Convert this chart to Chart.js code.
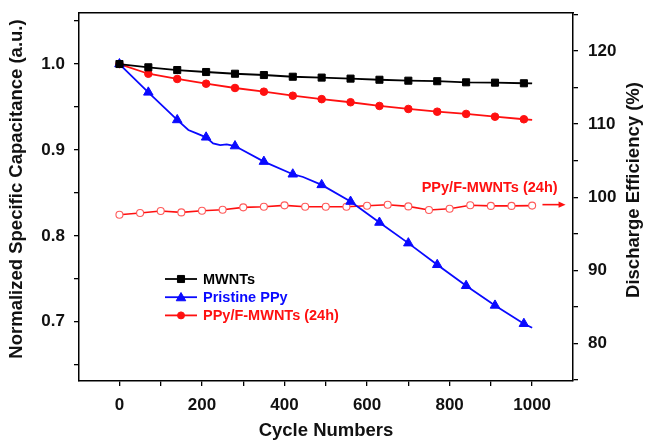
<!DOCTYPE html>
<html><head><meta charset="utf-8">
<script src="https://cdn.jsdelivr.net/npm/chart.js@4.4.1/dist/chart.umd.min.js"></script>
<style>html,body{margin:0;padding:0;background:#fff;}#wrap{width:647px;height:440px;position:relative;}</style>
</head><body><div id="wrap"><canvas id="c" width="647" height="440"></canvas></div>
<script>
// ---- data ----
const mwntCycles = [0,70,140,210,280,350,420,490,560,630,700,770,840,910,980,1000];
const mwntCap    = [1.000,0.9962,0.993,0.9907,0.9887,0.9872,0.9852,0.9842,0.983,0.9817,0.9806,0.980,0.9787,0.9783,0.9776,0.9774];
const mwntMarked = [1,1,1,1,1,1,1,1,1,1,1,1,1,1,1,0];

const compCycles = [0,70,140,210,280,350,420,490,560,630,700,770,840,910,980,1000];
const compCap    = [1.000,0.9887,0.9826,0.9771,0.9721,0.9678,0.9631,0.9591,0.9555,0.9512,0.9477,0.9445,0.9419,0.9387,0.9357,0.935];
const compMarked = [1,1,1,1,1,1,1,1,1,1,1,1,1,1,1,0];

const ppyCycles = [0,70,140,167,187,210,227,244,260,280,350,420,445,490,560,630,700,770,840,910,980,1000];
const ppyCap    = [1.000,0.967,0.9349,0.9232,0.9193,0.9147,0.9077,0.9057,0.9065,0.9045,0.8864,0.8717,0.8685,0.8593,0.8399,0.8155,0.7915,0.7663,0.7419,0.719,0.6977,0.693];
const ppyMarked = [1,1,1,0,0,1,0,0,0,1,1,1,0,1,1,1,1,1,1,1,1,0];

const effCycles = [0,50,100,150,200,250,300,350,400,450,500,550,600,650,700,750,800,850,900,950,1000];
const effValues = [97.60,97.83,98.10,97.92,98.14,98.28,98.61,98.69,98.88,98.69,98.69,98.69,98.83,98.96,98.74,98.24,98.42,98.89,98.81,98.81,98.85];

const xTicks = [0,100,200,300,400,500,600,700,800,900,1000];
const xLabels = [0,200,400,600,800,1000];
const yTicks = [0.65,0.70,0.75,0.80,0.85,0.90,0.95,1.00,1.05];
const yLabels = [0.7,0.8,0.9,1.0];
const y1Ticks = [75,80,85,90,95,100,105,110,115,120,125];
const y1Labels = [80,90,100,110,120];

const seriesNames = ['MWNTs','Pristine PPy','PPy/F-MWNTs (24h)'];
const annotationText = 'PPy/F-MWNTs (24h)';
const annotationPos = {x: 897, y: 101.24};
const arrowFrom = {x: 1025, y: 98.98};
const arrowTo = {x: 1081, y: 98.98};

// ---- styling ----
const FONT = "'Liberation Sans', Arial, Helvetica, sans-serif";
const BLACK = '#000000', BLUE = '#0a0aff', RED = '#ff1010', PINK = '#ff5a5a';

const pts = (xs, ys) => xs.map((x, i) => ({x, y: ys[i]}));
const near = (a, v) => a.some(t => Math.abs(t - v) < 1e-6);
const noPad = s => { s.paddingTop = 0; s.paddingBottom = 0; s.paddingLeft = 0; s.paddingRight = 0; };

function drawMarker(ctx, style, x, y, r, fill, stroke) {
  ctx.save();
  ctx.fillStyle = fill; ctx.strokeStyle = stroke; ctx.lineWidth = 1;
  ctx.beginPath();
  if (style === 'rect') {
    const s = r * Math.SQRT2 / 2;
    ctx.rect(x - s, y - s, 2 * s, 2 * s);
  } else if (style === 'triangle') {
    ctx.moveTo(x, y - r);
    ctx.lineTo(x + r * 0.866, y + r * 0.5);
    ctx.lineTo(x - r * 0.866, y + r * 0.5);
    ctx.closePath();
  } else {
    ctx.arc(x, y, r, 0, Math.PI * 2);
  }
  ctx.fill(); ctx.stroke();
  ctx.restore();
}

const overlay = {
  id: 'overlay',
  afterDraw(chart) {
    const ctx = chart.ctx, ca = chart.chartArea;
    const sx = chart.scales.x, sy1 = chart.scales.y1;
    ctx.save();
    // y-axis titles (both read bottom-to-top)
    ctx.font = 'bold 18.5px ' + FONT;
    ctx.fillStyle = '#111';
    ctx.textAlign = 'center'; ctx.textBaseline = 'middle';
    ctx.save(); ctx.translate(ca.left - 62, ca.top + 176); ctx.rotate(-Math.PI / 2);
    ctx.fillText('Normalized Specific Capacitance (a.u.)', 0, 0); ctx.restore();
    ctx.save(); ctx.translate(ca.right + 61, ca.top + 177); ctx.rotate(-Math.PI / 2);
    ctx.fillText('Discharge Efficiency (%)', 0, 0); ctx.restore();

    // legend
    const rows = [
      {name: seriesNames[0], color: BLACK, style: 'rect', r: 5},
      {name: seriesNames[1], color: BLUE, style: 'triangle', r: 5.5},
      {name: seriesNames[2], color: RED, style: 'circle', r: 3.5}
    ];
    const lx = ca.left + 86, ly = ca.top + 266;
    ctx.font = 'bold 14.5px ' + FONT;
    ctx.textAlign = 'left'; ctx.textBaseline = 'middle';
    rows.forEach((row, i) => {
      const y = ly + i * 18.2;
      ctx.strokeStyle = row.color; ctx.lineWidth = 1.8;
      ctx.beginPath(); ctx.moveTo(lx, y); ctx.lineTo(lx + 32, y); ctx.stroke();
      drawMarker(ctx, row.style, lx + 16, y + (row.style === 'triangle' ? 0.8 : 0), row.r, row.color, row.color);
      ctx.fillStyle = row.color;
      ctx.fillText(row.name, lx + 38, y + 0.5);
    });

    // annotation text + arrow (positioned in data coordinates)
    ctx.fillStyle = RED;
    ctx.textAlign = 'center';
    ctx.fillText(annotationText, sx.getPixelForValue(annotationPos.x), sy1.getPixelForValue(annotationPos.y));
    const ax0 = sx.getPixelForValue(arrowFrom.x), ax1 = sx.getPixelForValue(arrowTo.x);
    const ay = sy1.getPixelForValue(arrowFrom.y);
    ctx.strokeStyle = RED; ctx.lineWidth = 1.6;
    ctx.beginPath(); ctx.moveTo(ax0, ay); ctx.lineTo(ax1 - 5, ay); ctx.stroke();
    ctx.beginPath(); ctx.moveTo(ax1, ay); ctx.lineTo(ax1 - 7, ay - 3.2); ctx.lineTo(ax1 - 7, ay + 3.2); ctx.closePath();
    ctx.fillStyle = RED; ctx.fill();
    ctx.restore();
  }
};

const tickFont = {family: FONT, size: 17, weight: 'bold'};
const gridOpts = {drawOnChartArea: false, drawTicks: true, tickLength: 5, color: BLACK, lineWidth: 1.3};
const borderOpts = {display: true, color: BLACK, width: 1.5};

new Chart(document.getElementById('c'), {
  type: 'line',
  data: {
    datasets: [
      {label: seriesNames[0], data: pts(mwntCycles, mwntCap), yAxisID: 'y',
       borderColor: BLACK, backgroundColor: BLACK, borderWidth: 1.8, pointStyle: 'rect',
       pointRadius: mwntMarked.map(m => m ? 5 : 0), pointBorderWidth: 1, tension: 0},
      {label: seriesNames[1], data: pts(ppyCycles, ppyCap), yAxisID: 'y',
       borderColor: BLUE, backgroundColor: BLUE, borderWidth: 1.8, pointStyle: 'triangle',
       pointRadius: ppyMarked.map(m => m ? 5.5 : 0), pointBorderWidth: 1, tension: 0},
      {label: seriesNames[2], data: pts(compCycles, compCap), yAxisID: 'y',
       borderColor: RED, backgroundColor: RED, borderWidth: 1.8, pointStyle: 'circle',
       pointRadius: compMarked.map(m => m ? 3.8 : 0), pointBorderWidth: 1, tension: 0},
      {label: 'Discharge Efficiency', data: pts(effCycles, effValues), yAxisID: 'y1',
       borderColor: RED, backgroundColor: '#ffffff', borderWidth: 1.6, pointStyle: 'circle',
       pointRadius: 3.5, pointBorderColor: PINK, pointBackgroundColor: '#ffffff', pointBorderWidth: 1.1, tension: 0}
    ]
  },
  options: {
    responsive: false, animation: false, devicePixelRatio: 1,
    layout: {padding: {top: 13, left: 0, right: 0, bottom: 0}},
    plugins: {legend: {display: false}, tooltip: {enabled: false}},
    scales: {
      x: {type: 'linear', position: 'bottom', min: -98, max: 1099,
        afterFit(s) { s.height = 59; noPad(s); },
        afterBuildTicks(s) { s.ticks = xTicks.map(v => ({value: v})); },
        ticks: {callback: v => near(xLabels, v) ? String(v) : '', font: tickFont, color: '#111', padding: 9, autoSkip: false, maxRotation: 0},
        grid: gridOpts, border: borderOpts,
        title: {display: true, text: 'Cycle Numbers', font: {family: FONT, size: 18.5, weight: 'bold', lineHeight: 1.0}, color: '#111', padding: {top: 0, bottom: 0}}
      },
      xTop: {type: 'linear', position: 'top', min: -98, max: 1099,
        afterFit(s) { s.height = 0; noPad(s); },
        ticks: {display: false}, grid: {drawOnChartArea: false, drawTicks: false}, border: borderOpts},
      y: {type: 'linear', position: 'left', min: 0.631, max: 1.0594,
        afterFit(s) { s.width = 79; noPad(s); },
        afterBuildTicks(s) { s.ticks = yTicks.map(v => ({value: v})); },
        ticks: {callback: v => near(yLabels, v) ? v.toFixed(1) : '', font: tickFont, color: '#111', padding: 9, autoSkip: false},
        grid: gridOpts, border: borderOpts, title: {display: false}
      },
      y1: {type: 'linear', position: 'right', min: 74.85, max: 125.2,
        afterFit(s) { s.width = 74; noPad(s); },
        afterBuildTicks(s) { s.ticks = y1Ticks.map(v => ({value: v})); },
        ticks: {callback: v => near(y1Labels, v) ? String(v) : '', font: tickFont, color: '#111', padding: 10, autoSkip: false},
        grid: gridOpts, border: borderOpts, title: {display: false}
      }
    }
  },
  plugins: [overlay]
});
</script></body></html>
